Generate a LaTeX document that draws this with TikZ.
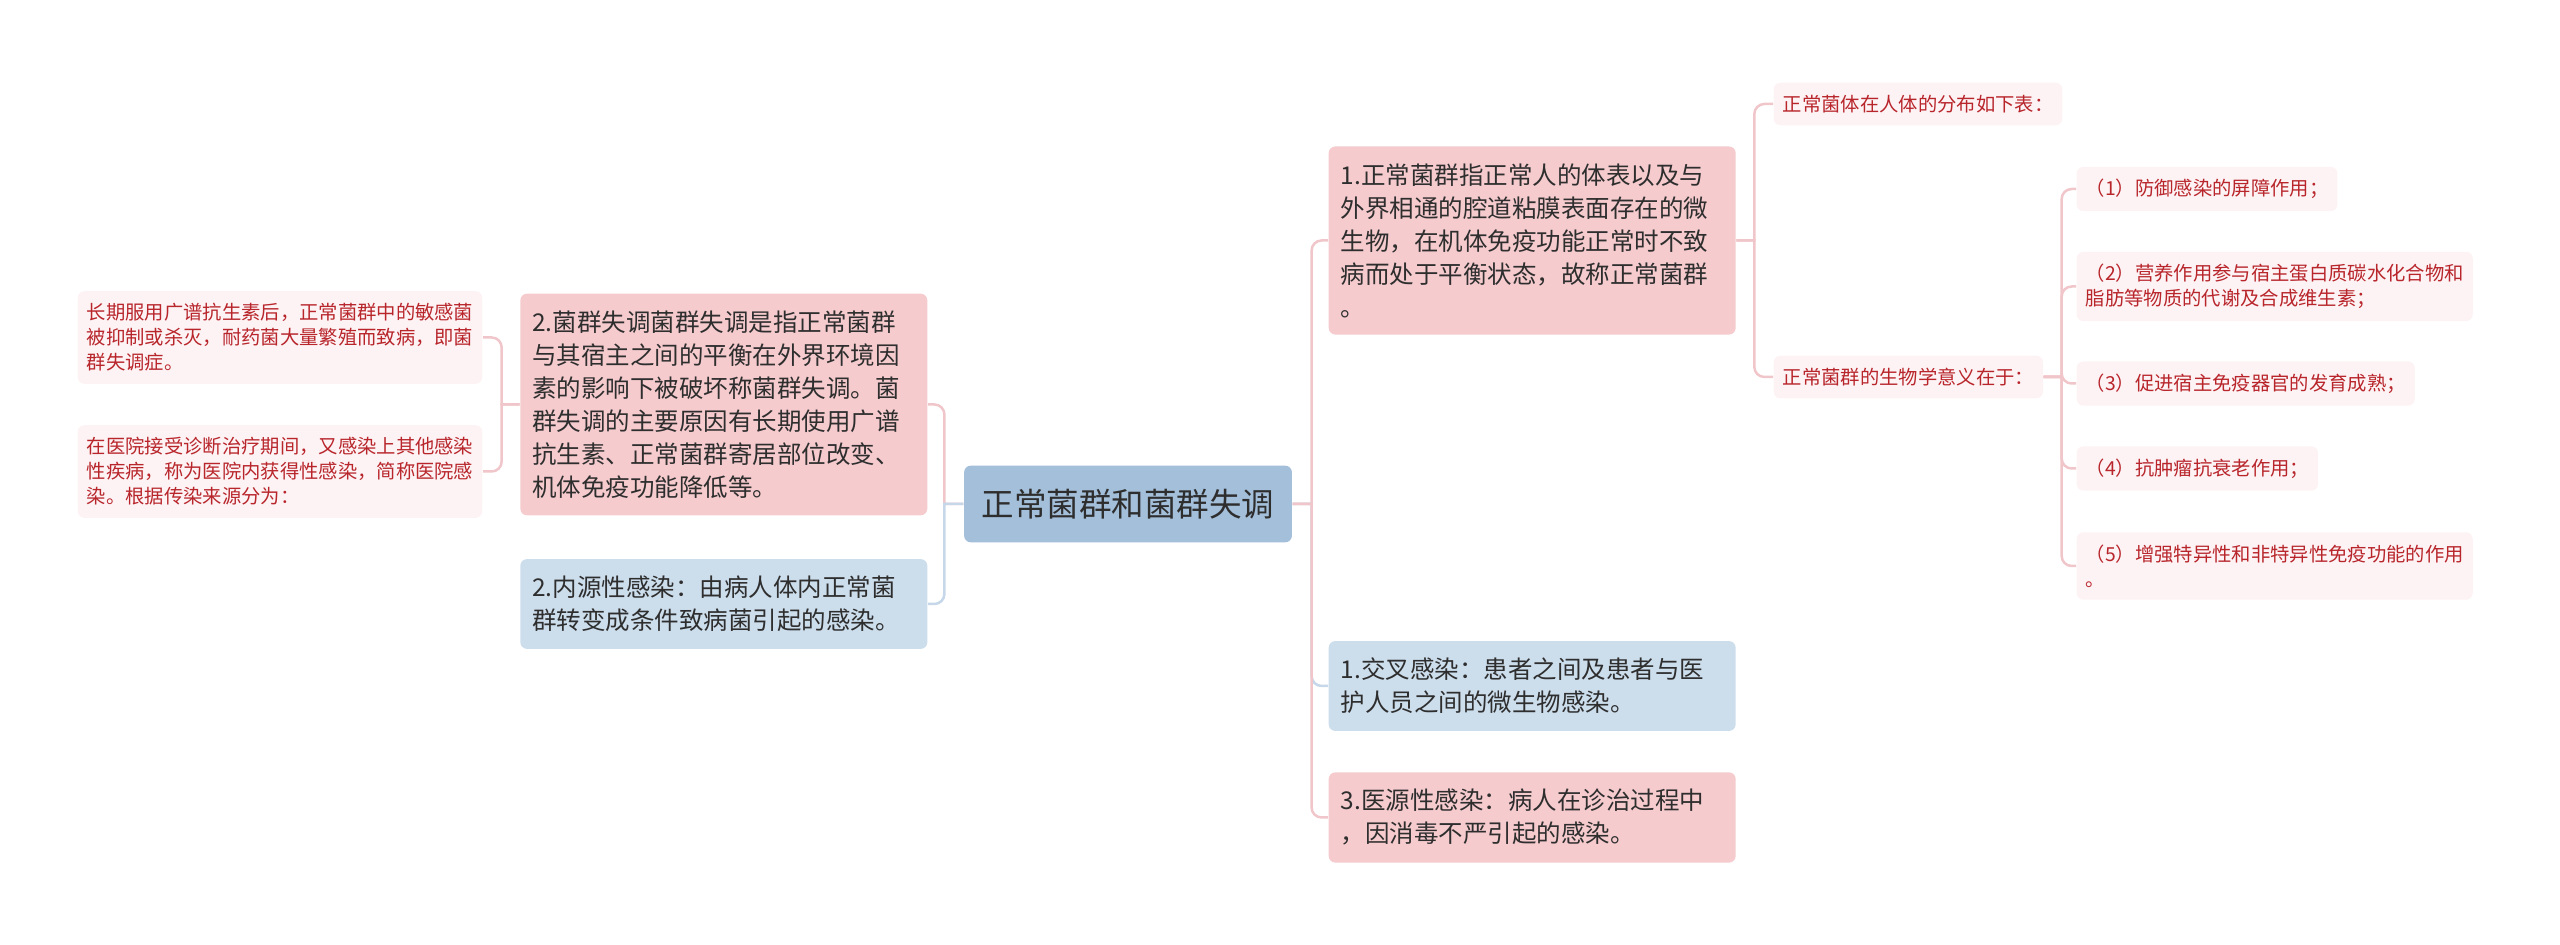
\documentclass[tikz,border=0pt]{standalone}
\usepackage{fontspec}
\newfontfamily\cjk{Noto Sans CJK SC}
\usepackage{tikz}
\usetikzlibrary{positioning}
\usepackage{xcolor}
\definecolor{mapCentre}{HTML}{A3BFDA}
\definecolor{mapPink}{HTML}{F5CBCE}
\definecolor{mapBlue}{HTML}{CCDDEC}
\definecolor{mapLeaf}{HTML}{FDF3F4}
\definecolor{mapRed}{HTML}{B8262C}
\definecolor{mapText}{HTML}{2E2E2E}
\definecolor{linePink}{HTML}{F0C6CA}
\definecolor{lineBlue}{HTML}{C5D7E9}

\begin{document}
\begin{tikzpicture}[x=0.3pt,y=-0.3pt,
    mainbox/.style={rounded corners=2pt,text=mapText,text width=114.9pt,align=left,inner xsep=3.6pt,inner ysep=5.1pt,font=\cjk\fontsize{7.35pt}{9.9pt}\selectfont},
    pinkbox/.style={mainbox,fill=mapPink},
    bluebox/.style={mainbox,fill=mapBlue},
    leafbox/.style={rounded corners=2pt,fill=mapLeaf,text=mapRed,align=left,inner xsep=2.7pt,inner ysep=3.7pt,font=\cjk\fontsize{5.8pt}{7.5pt}\selectfont},
    pinkline/.style={draw=linePink,line width=0.75pt},
    blueline/.style={draw=lineBlue,line width=0.75pt}]
    \useasboundingbox (0,0) rectangle (2560,945);
    \node[rounded corners=2pt,fill=mapCentre,text=mapText,inner xsep=5.3pt,inner ysep=7pt,font=\cjk\fontsize{9.75pt}{12pt}\selectfont] (cen) at (1128,504) {正常菌群和菌群失调};
    % left branch
    \node[pinkbox,anchor=east] (dis) at (928,404.5) {2.菌群失调菌群失调是指正常菌群\\与其宿主之间的平衡在外界环境因\\素的影响下被破坏称菌群失调。菌\\群失调的主要原因有长期使用广谱\\抗生素、正常菌群寄居部位改变、\\机体免疫功能降低等。};
    \node[bluebox,anchor=east] (endo) at (928,604) {2.内源性感染：由病人体内正常菌\\群转变成条件致病菌引起的感染。};
    \node[leafbox,anchor=east] (longuse) at (483,337.5) {长期服用广谱抗生素后，正常菌群中的敏感菌\\被抑制或杀灭，耐药菌大量繁殖而致病，即菌\\群失调症。};
    \node[leafbox,anchor=east] (hosp) at (483,471.5) {在医院接受诊断治疗期间，又感染上其他感染\\性疾病，称为医院内获得性感染，简称医院感\\染。根据传染来源分为：};
    % right branch
    \node[pinkbox,anchor=west] (norm) at (1328,240.5) {1.正常菌群指正常人的体表以及与\\外界相通的腔道粘膜表面存在的微\\生物，在机体免疫功能正常时不致\\病而处于平衡状态，故称正常菌群\\。};
    \node[bluebox,anchor=west] (cross) at (1328,686) {1.交叉感染：患者之间及患者与医\\护人员之间的微生物感染。};
    \node[pinkbox,anchor=west] (iatro) at (1328,817.5) {3.医源性感染：病人在诊治过程中\\，因消毒不严引起的感染。};
    \node[leafbox,anchor=west] (dist) at (1773,104) {正常菌体在人体的分布如下表：};
    \node[leafbox,anchor=west] (sig) at (1773,377) {正常菌群的生物学意义在于：};
    \node[leafbox,anchor=west] (sig1) at (2076,189) {（1）防御感染的屏障作用；};
    \node[leafbox,anchor=west] (sig2) at (2076,286.5) {（2）营养作用参与宿主蛋白质碳水化合物和\\脂肪等物质的代谢及合成维生素；};
    \node[leafbox,anchor=west] (sig3) at (2076,383.5) {（3）促进宿主免疫器官的发育成熟；};
    \node[leafbox,anchor=west] (sig4) at (2076,468.5) {（4）抗肿瘤抗衰老作用；};
    \node[leafbox,anchor=west] (sig5) at (2076,566) {（5）增强特异性和非特异性免疫功能的作用\\。};
    \draw[pinkline] (cen.west) -- ++(-19,0) [rounded corners=3pt] |- (dis.east);
    \draw[blueline] (cen.west) -- ++(-19,0) [rounded corners=3pt] |- (endo.east);
    \draw[pinkline] (dis.west) -- ++(-18,0) [rounded corners=3pt] |- (longuse.east);
    \draw[pinkline] (dis.west) -- ++(-18,0) [rounded corners=3pt] |- (hosp.east);
    \draw[pinkline] (cen.east) -- ++(19,0) [rounded corners=3pt] |- (norm.west);
    \draw[blueline] (cen.east) -- ++(19,0) [rounded corners=3pt] |- (cross.west);
    \draw[pinkline] (cen.east) -- ++(19,0) [rounded corners=3pt] |- (iatro.west);
    \draw[pinkline] (norm.east) -- ++(18,0) [rounded corners=3pt] |- (dist.west);
    \draw[pinkline] (norm.east) -- ++(18,0) [rounded corners=3pt] |- (sig.west);
    \draw[pinkline] (sig.east) -- ++(18,0) [rounded corners=3pt] |- (sig1.west);
    \draw[pinkline] (sig.east) -- ++(18,0) [rounded corners=3pt] |- (sig2.west);
    \draw[pinkline] (sig.east) -- ++(18,0) [rounded corners=3pt] |- (sig3.west);
    \draw[pinkline] (sig.east) -- ++(18,0) [rounded corners=3pt] |- (sig4.west);
    \draw[pinkline] (sig.east) -- ++(18,0) [rounded corners=3pt] |- (sig5.west);
  \end{tikzpicture}
\end{document}
